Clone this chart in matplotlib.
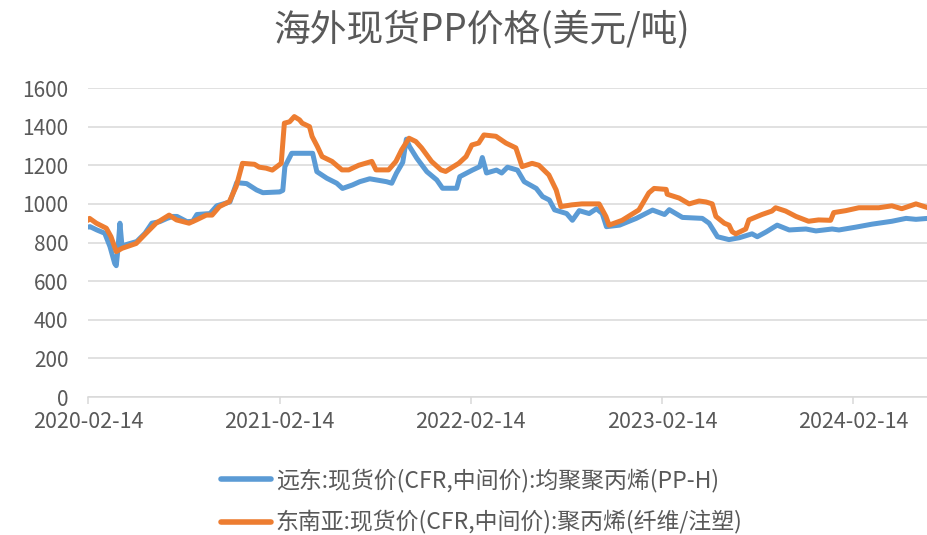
import matplotlib
matplotlib.use("Agg")
import matplotlib.pyplot as plt
import pandas as pd

plt.rcParams['font.family'] = ['Noto Sans CJK SC', 'DejaVu Sans']

title = "海外现货PP价格(美元/吨)"
label_blue = "远东:现货价(CFR,中间价):均聚聚丙烯(PP-H)"
label_orange = "东南亚:现货价(CFR,中间价):聚丙烯(纤维/注塑)"

blue_dates = ["2020-02-14", "2020-02-18", "2020-03-02", "2020-03-17", "2020-03-27", "2020-04-05",
              "2020-04-08", "2020-04-11", "2020-04-15", "2020-04-19", "2020-04-28", "2020-05-17",
              "2020-06-02", "2020-06-15", "2020-06-30", "2020-07-14", "2020-07-25", "2020-08-02",
              "2020-08-21", "2020-09-01", "2020-09-09", "2020-10-04", "2020-10-17", "2020-11-11",
              "2020-11-24", "2020-12-13", "2021-01-01", "2021-01-13", "2021-02-14", "2021-02-20",
              "2021-02-24", "2021-03-09", "2021-04-18", "2021-04-26", "2021-05-15", "2021-06-03",
              "2021-06-14", "2021-07-03", "2021-07-17", "2021-08-05", "2021-09-06", "2021-09-16",
              "2021-09-25", "2021-10-07", "2021-10-14", "2021-10-20", "2021-11-03", "2021-11-22",
              "2021-12-11", "2021-12-22", "2022-01-18", "2022-01-24", "2022-02-17", "2022-03-03",
              "2022-03-08", "2022-03-16", "2022-04-04", "2022-04-14", "2022-04-25", "2022-05-14",
              "2022-05-27", "2022-06-19", "2022-07-01", "2022-07-14", "2022-07-24", "2022-08-16",
              "2022-08-27", "2022-09-09", "2022-09-28", "2022-10-12", "2022-10-23", "2022-10-31",
              "2022-11-25", "2022-12-27", "2023-01-27", "2023-02-19", "2023-02-28", "2023-03-25",
              "2023-05-02", "2023-05-15", "2023-05-31", "2023-06-22", "2023-07-12", "2023-08-05",
              "2023-08-15", "2023-09-01", "2023-09-22", "2023-10-15", "2023-11-16", "2023-12-05",
              "2024-01-05", "2024-01-18", "2024-02-20", "2024-03-21", "2024-04-28", "2024-05-25",
              "2024-06-13", "2024-07-06"]
blue_values = [880, 882, 865, 848, 779, 692,
               680, 760, 900, 780, 790, 805,
               848, 900, 908, 925, 935, 935,
               908, 910, 945, 950, 990, 1010,
               1110, 1105, 1072, 1058, 1062, 1070,
               1193, 1262, 1262, 1167, 1133, 1107,
               1080, 1098, 1115, 1130, 1115, 1107,
               1159, 1215, 1335, 1297, 1236, 1167,
               1124, 1081, 1081, 1141, 1175, 1193,
               1240, 1160, 1175, 1160, 1190, 1175,
               1115, 1080, 1038, 1020, 969, 950,
               915, 965, 950, 975, 950, 882,
               890, 925, 968, 945, 970, 930,
               925, 900, 830, 815, 825, 845,
               830, 855, 890, 865, 870, 860,
               870, 865, 880, 895, 910, 925,
               920, 925]

orange_dates = ["2020-02-14", "2020-02-17", "2020-03-01", "2020-03-20", "2020-03-29", "2020-04-08",
                "2020-04-19", "2020-05-16", "2020-06-04", "2020-06-23", "2020-07-18", "2020-08-01",
                "2020-08-25", "2020-09-08", "2020-09-27", "2020-10-08", "2020-10-22", "2020-11-10",
                "2020-11-23", "2020-12-05", "2020-12-28", "2021-01-06", "2021-01-19", "2021-01-31",
                "2021-02-17", "2021-02-23", "2021-03-05", "2021-03-14", "2021-03-24", "2021-03-29",
                "2021-04-12", "2021-04-17", "2021-04-27", "2021-05-06", "2021-05-25", "2021-06-13",
                "2021-06-26", "2021-07-15", "2021-08-09", "2021-08-17", "2021-09-10", "2021-09-24",
                "2021-10-05", "2021-10-19", "2021-11-01", "2021-11-12", "2021-12-01", "2021-12-19",
                "2021-12-28", "2022-01-16", "2022-01-22", "2022-02-05", "2022-02-16", "2022-03-01",
                "2022-03-11", "2022-04-03", "2022-04-22", "2022-05-11", "2022-05-23", "2022-06-11",
                "2022-06-24", "2022-07-13", "2022-07-27", "2022-08-05", "2022-08-26", "2022-09-14",
                "2022-10-17", "2022-10-30", "2022-11-05", "2022-11-30", "2023-01-01", "2023-01-20",
                "2023-01-30", "2023-02-22", "2023-02-24", "2023-03-19", "2023-04-07", "2023-04-26",
                "2023-05-09", "2023-05-21", "2023-05-28", "2023-06-13", "2023-06-22", "2023-06-28",
                "2023-07-05", "2023-07-24", "2023-07-30", "2023-08-24", "2023-09-12", "2023-09-19",
                "2023-10-08", "2023-10-28", "2023-11-21", "2023-12-10", "2024-01-02", "2024-01-08",
                "2024-01-31", "2024-02-25", "2024-04-03", "2024-04-28", "2024-05-17", "2024-06-13",
                "2024-07-06"]
orange_values = [915, 925, 900, 874, 830, 753,
                 770, 795, 848, 900, 942, 917,
                 900, 917, 942, 942, 986, 1012,
                 1090, 1210, 1205, 1190, 1185, 1175,
                 1210, 1418, 1425, 1452, 1435, 1418,
                 1400, 1349, 1297, 1245, 1220, 1176,
                 1176, 1200, 1220, 1176, 1176, 1220,
                 1280, 1340, 1323, 1290, 1220, 1176,
                 1168, 1200, 1210, 1245, 1305, 1315,
                 1357, 1350, 1315, 1290, 1193, 1210,
                 1200, 1150, 1072, 986, 995, 1000,
                 1000, 935, 890, 915, 969, 1057,
                 1080, 1075, 1050, 1030, 1000, 1015,
                 1010, 1000, 935, 900, 890, 856,
                 845, 870, 917, 945, 963, 980,
                 963, 935, 910, 917, 915, 955,
                 965, 980, 980, 990, 975, 1000,
                 980]

y_ticks = [0, 200, 400, 600, 800, 1000, 1200, 1400, 1600]
x_tick_labels = ["2020-02-14", "2021-02-14", "2022-02-14", "2023-02-14", "2024-02-14"]
x_end = "2024-07-06"

text_color = "#595959"
grid_color = "#D9D9D9"
c_blue = "#5B9BD5"
c_orange = "#ED7D31"

fig = plt.figure(figsize=(9.28, 5.35), dpi=100)
ax = fig.add_axes([0.0948, 0.2579, 0.9052, 0.5776])

bd = pd.to_datetime(blue_dates)
od = pd.to_datetime(orange_dates)
ax.plot(bd, blue_values, color=c_blue, lw=3.6, solid_joinstyle='round',
        solid_capstyle='round', label=label_blue, zorder=3)
ax.plot(od, orange_values, color=c_orange, lw=3.6, solid_joinstyle='round',
        solid_capstyle='round', label=label_orange, zorder=4)

xt = pd.to_datetime(x_tick_labels)
ax.set_xlim(xt[0], pd.to_datetime(x_end))
ax.set_ylim(0, 1600)
ax.set_yticks(y_ticks)
ax.set_xticks(xt)
ax.set_xticklabels(x_tick_labels)

ax.grid(axis='y', color=grid_color, lw=1.1)
ax.set_axisbelow(True)
for s in ['top', 'right', 'left']:
    ax.spines[s].set_visible(False)
ax.spines['bottom'].set_color(grid_color)
ax.spines['bottom'].set_linewidth(1.1)
ax.tick_params(axis='y', length=0, pad=14, labelsize=15, labelcolor=text_color)
ax.tick_params(axis='x', length=5, width=1.1, color=grid_color, pad=5,
               labelsize=15.5, labelcolor=text_color)

fig.text(0.519, 0.943, title, ha='center', va='center', fontsize=26.5, color=text_color)

handles, labels = ax.get_legend_handles_labels()
leg = fig.legend(handles, labels, loc='center', bbox_to_anchor=(0.519, 0.0626),
                 ncol=1, frameon=False, fontsize=16.5, labelcolor=text_color,
                 handlelength=2.2, handletextpad=0.2, labelspacing=0.8,
                 borderpad=0, borderaxespad=0)
for l in leg.get_lines():
    l.set_linewidth(4)

fig.savefig("out.png", dpi=100)
